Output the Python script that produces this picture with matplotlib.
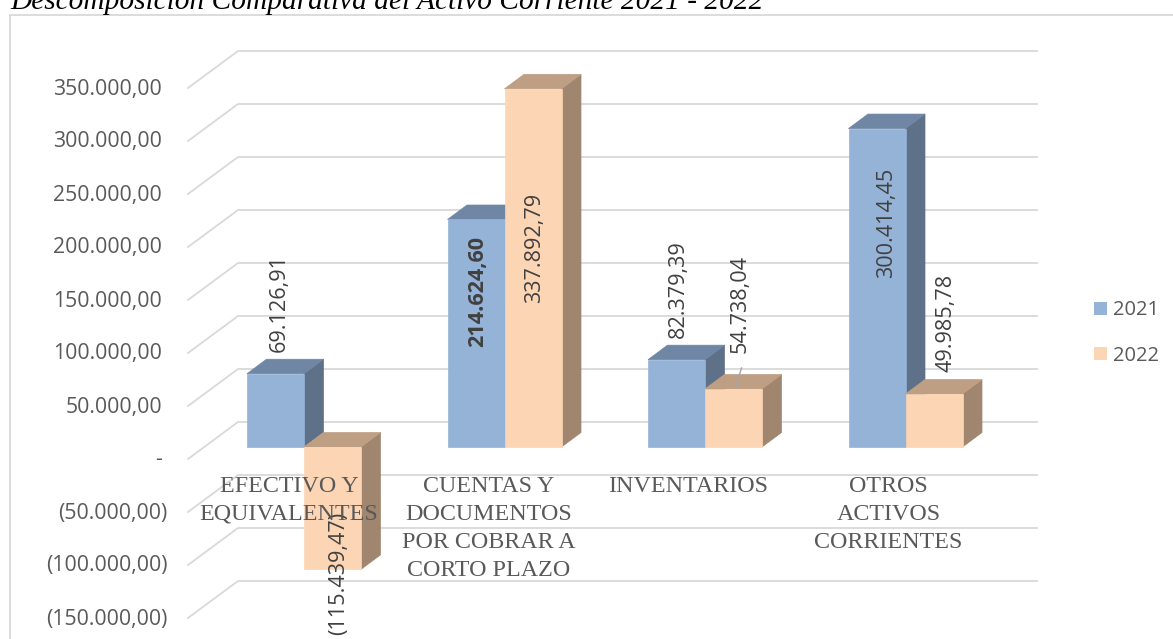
import matplotlib
matplotlib.use('Agg')
import matplotlib.pyplot as plt
from matplotlib.patches import Polygon, Patch, Rectangle
from matplotlib.transforms import ScaledTranslation

# datos
categorias = ['EFECTIVO Y\nEQUIVALENTES', 'CUENTAS Y\nDOCUMENTOS\nPOR COBRAR A\nCORTO PLAZO',
              'INVENTARIOS', 'OTROS\nACTIVOS\nCORRIENTES']
valores_2021 = [69126.91, 214624.60, 82379.39, 300414.45]
valores_2022 = [-115439.47, 337892.79, 54738.04, 49985.78]
ticks = [350000, 300000, 250000, 200000, 150000, 100000, 50000, 0, -50000, -100000, -150000]
tick_labels = ['350.000,00', '300.000,00', '250.000,00', '200.000,00', '150.000,00', '100.000,00',
               '50.000,00', '-', '(50.000,00)', '(100.000,00)', '(150.000,00)']
etiquetas_2021 = ['69.126,91', '214.624,60', '82.379,39', '300.414,45']
etiquetas_2022 = ['(115.439,47)', '337.892,79', '54.738,04', '49.985,78']
titulo = 'Descomposición Comparativa del Activo Corriente 2021 - 2022'

W, H = 1173, 639
PX_CAT = 200.5
PX_VAL = 53 / 50000

fig = plt.figure(figsize=(W / 100, H / 100), dpi=100)
ax = fig.add_axes([188 / W, 0, (1037 - 188) / W, 1])
ax.set_xlim((188 - 304) / PX_CAT, (1037 - 304) / PX_CAT)
ax.set_ylim((456 - H) / PX_VAL, 456 / PX_VAL)
for s in ax.spines.values():
    s.set_visible(False)


def dx(p):
    return p / PX_CAT


def dy(p):
    return p / PX_VAL


# marco del grafico (abierto por la derecha y por abajo)
fig.add_artist(Rectangle((10 / W, -0.01), 1.0, 1.01 - 14.5 / H, transform=fig.transFigure,
                         fill=False, ec='#d9d9d9', lw=1.3))

# rejilla con perspectiva
x0, x1 = ax.get_xlim()
for t in ticks:
    ax.plot([x0, x0 + dx(50), x1], [t - dy(3), t + dy(34), t + dy(34)], color='#d9d9d9', lw=1.3,
            zorder=1, clip_on=False, solid_joinstyle='miter')

ax.set_xticks([])
ax.set_yticks(ticks)
ax.set_yticklabels(tick_labels, family='Open Sans', fontsize=15.3, color='#595959')
ax.tick_params(axis='y', length=0, pad=15)
for lbl in ax.get_yticklabels():
    if not lbl.get_text().startswith('('):
        lbl.set_transform(lbl.get_transform() + ScaledTranslation(-5 / 100, 0, fig.dpi_scale_trans))
    lbl.set_transform(lbl.get_transform() + ScaledTranslation(0, -1.5 / 100, fig.dpi_scale_trans))

ANCHO = 57 / PX_CAT
PROF_X = dx(19.5)
PROF_Y = dy(14.5)
BASE = dy(9)


def barra(x, v, frente, arriba, lado, z):
    y0 = BASE
    y1 = BASE + v
    ytop = max(y0, y1)
    ybot = min(y0, y1)
    ax.add_patch(Polygon([(x + ANCHO, ybot), (x + ANCHO + PROF_X, ybot + PROF_Y),
                          (x + ANCHO + PROF_X, ytop + PROF_Y), (x + ANCHO, ytop)],
                         fc=lado, ec=lado, lw=0.5, zorder=z))
    ax.add_patch(Polygon([(x, ytop), (x + PROF_X, ytop + PROF_Y),
                          (x + ANCHO + PROF_X, ytop + PROF_Y), (x + ANCHO, ytop)],
                         fc=arriba, ec=arriba, lw=0.5, zorder=z))
    ax.add_patch(Rectangle((x, ybot), ANCHO, ytop - ybot, fc=frente, ec=frente, lw=0.5, zorder=z + 0.1))


for i in range(4):
    barra(i - ANCHO, valores_2021[i], '#95b3d7', '#6f86a5', '#5f7189', 2 + i * 0.5)
    barra(i, valores_2022[i], '#fcd5b4', '#bf9f84', '#a0856f', 2.2 + i * 0.5)

# etiquetas de datos: desplazamiento en px respecto al centro de la barra y a su tope
sep_2021 = [(4, 22), (2, -128), (2, 22), (10, -149)]
sep_2022 = [(6, 57), (2, -214), (7, 36), (12, 22)]
estilo = dict(rotation=90, ha='center', family='Open Sans', fontsize=15.6, color='#404040', zorder=6,
              rotation_mode='default')
for i in range(4):
    xa = i - ANCHO / 2
    xb = i + ANCHO / 2
    ax.text(xa + dx(sep_2021[i][0]), BASE + valores_2021[i] + dy(sep_2021[i][1]), etiquetas_2021[i], va='bottom',
            fontweight='bold' if i == 1 else 'normal', **estilo)
    if valores_2022[i] < 0:
        ax.text(xb + dx(sep_2022[i][0]), BASE + valores_2022[i] + dy(sep_2022[i][1]), etiquetas_2022[i], va='top',
                **estilo)
    else:
        ax.text(xb + dx(sep_2022[i][0]), BASE + valores_2022[i] + dy(sep_2022[i][1]), etiquetas_2022[i], va='bottom',
                **estilo)

# linea guia de 54.738,04
ax.plot([2 + ANCHO / 2 + dx(8), 2 + ANCHO / 2 + dx(2)],
        [BASE + valores_2022[2] + dy(21), BASE + valores_2022[2] + dy(1)], color='#a6a6a6', lw=1, zorder=6)

# categorias
sep_cat = [-15, -15.5, -17, -17]
for i, c in enumerate(categorias):
    ax.text(i + dx(sep_cat[i]), dy(456 - 476), c, ha='center', va='top', family='Liberation Serif', fontsize=17.3,
            color='#595959', linespacing=1.43, zorder=7)

ax.legend(handles=[Patch(fc='#95b3d7', label='2021'), Patch(fc='#fcd5b4', label='2022')],
          loc='center left', bbox_to_anchor=(1076 / W, 1 - 333 / H), bbox_transform=fig.transFigure, frameon=False,
          prop={'family': 'Open Sans', 'size': 14.5}, labelcolor='#595959', handlelength=0.65, handleheight=0.65,
          handletextpad=0.3, labelspacing=1.25)

fig.text(10 / W, 1 - 9 / H, titulo, family='Liberation Serif', style='italic', fontsize=21.2, color='black',
         ha='left', va='baseline')

fig.savefig('out.png', dpi=100)
